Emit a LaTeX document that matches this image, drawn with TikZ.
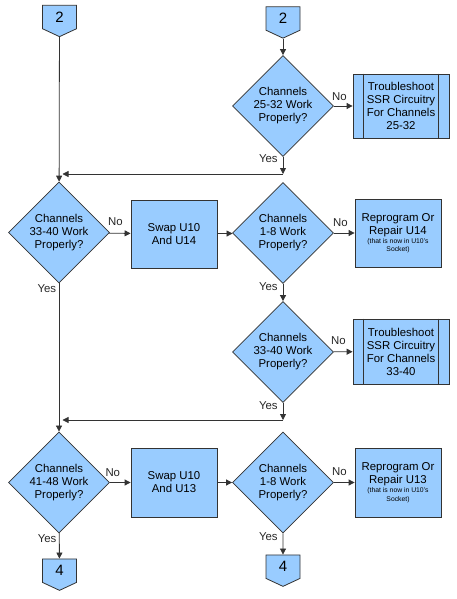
\documentclass[tikz,border=0pt]{standalone}
\usepackage{fontspec}
\setmainfont{Liberation Sans}
\usetikzlibrary{shapes.geometric,shapes.symbols,arrows.meta}
\definecolor{boxfill}{HTML}{99CCFF}
\definecolor{edge}{HTML}{333333}
\newcommand\mainfont{\fontsize{11.4}{13}\selectfont}
\newcommand\notefont{\fontsize{6.8}{8}\selectfont}
\tikzset{
    shape base/.style={draw=edge,fill=boxfill,line width=0.8pt,inner sep=0pt,align=center,font=\mainfont},
    decision/.style={shape base,diamond,minimum width=101pt,minimum height=101pt},
    process/.style={shape base,rectangle,minimum width=86pt,minimum height=68pt},
    subproc/.style={shape base,rectangle,minimum width=96pt,minimum height=64pt},
    offpage/.style={shape base,signal,signal to=south,signal pointer angle=130,
        minimum width=34pt,minimum height=25.4pt,font=\fontsize{15}{16}\selectfont},
    flow/.style={draw=edge,line width=0.8pt,-{Triangle[length=6pt,width=6pt]}},
    lbl/.style={font=\mainfont,inner sep=1pt,text=black!85}
}
\begin{document}
\begin{tikzpicture}[x=1pt,y=1pt]
    \useasboundingbox (0,0) rectangle (456,-599);
    %% off-page connectors
    \node[offpage] (in2a) at (59.5,-17) {2};
    \node[offpage] (in2b) at (283,-18.5) {2};
    \node[offpage] (out4a) at (59.5,-570.7) {4};
    \node[offpage] (out4b) at (283,-566.7) {4};
    %% decisions
    \node[decision] (q1) at (283,-106) {Channels\\25-32 Work\\Properly?};
    \node[decision] (q2) at (59,-232.5) {Channels\\33-40 Work\\Properly?};
    \node[decision] (q3) at (283,-233) {Channels\\1-8 Work\\Properly?};
    \node[decision] (q4) at (283,-352) {Channels\\33-40 Work\\Properly?};
    \node[decision] (q5) at (59,-482.5) {Channels\\41-48 Work\\Properly?};
    \node[decision] (q6) at (283,-482.5) {Channels\\1-8 Work\\Properly?};
    %% actions
    \node[subproc] (ssr1) at (401,-106) {Troubleshoot\\SSR Circuitry\\For Channels\\25-32};
    \node[subproc,minimum height=65pt] (ssr2) at (401,-351.5) {Troubleshoot\\SSR Circuitry\\For Channels\\33-40};
    \node[process] (swap1) at (174,-234) {Swap U10\\And U14};
    \node[process,minimum height=69pt] (swap2) at (174,-482.5) {Swap U10\\And U13};
    \node[process] (fix1) at (398,-233) {Reprogram Or\\Repair U14\\[-4pt]{\notefont (that is now in U10's}\\[-4.5pt]{\notefont Socket)}};
    \node[process,minimum height=69pt] (fix2) at (398,-482.5) {Reprogram Or\\Repair U13\\[-4pt]{\notefont (that is now in U10's}\\[-4.5pt]{\notefont Socket)}};
    \foreach \n in {ssr1,ssr2}
        \draw[draw=edge,line width=0.8pt] ([xshift=11pt]\n.north west) -- ([xshift=11pt]\n.south west)
            ([xshift=-11pt]\n.north east) -- ([xshift=-11pt]\n.south east);
    %% merge points
    \coordinate (m1) at (283,-174);
    \coordinate (j1) at (59.5,-174);
    \coordinate (m2) at (283,-420);
    \coordinate (j2) at (59.5,-420);
    %% flow
    \draw[flow] (in2b) -- (q1);
    \draw[flow] (in2a) -- (q2);
    \draw[flow] (q1) -- node[lbl,at start,anchor=east,xshift=-4pt,yshift=-2pt] (y1) {Yes} (m1);
    \draw[flow,shorten >=3pt] (m1) -- (j1);
    \draw[flow] (q1) -- node[lbl,pos=0.3,above=4pt] (n1) {No} (ssr1);
    \draw[flow] (q2) -- node[lbl,pos=0.29,above=6pt] (n2) {No} (swap1);
    \draw[flow] (swap1) -- (q3);
    \draw[flow] (q3) -- node[lbl,pos=0.32,above=5pt] (n3) {No} (fix1);
    \draw[flow] (q3) -- node[lbl,at start,anchor=east,xshift=-4pt,yshift=-3pt] (y3) {Yes} (q4);
    \draw[flow] (q4) -- node[lbl,pos=0.25,above=6pt] (n4) {No} (ssr2);
    \draw[flow] (q4) -- node[lbl,at start,anchor=east,xshift=-4pt,yshift=-3pt] (y4) {Yes} (m2);
    \draw[flow,shorten >=3pt] (m2) -- (j2);
    \draw[flow] (q2) -- node[lbl,at start,anchor=north east,xshift=-1.5pt] (y2) {Yes} (q5);
    \draw[flow] (q5) -- node[lbl,pos=0.14,above=4pt] (n5) {No} (swap2);
    \draw[flow] (swap2) -- (q6);
    \draw[flow] (q6) -- node[lbl,pos=0.27,above=5pt] (n6) {No} (fix2);
    \draw[flow] (q5) -- node[lbl,at start,anchor=north east,xshift=-1.5pt] (y5) {Yes} (out4a);
    \draw[flow] (q6) -- node[lbl,at start,anchor=east,xshift=-4pt,yshift=-3pt] (y6) {Yes} (out4b);
\end{tikzpicture}
\end{document}
